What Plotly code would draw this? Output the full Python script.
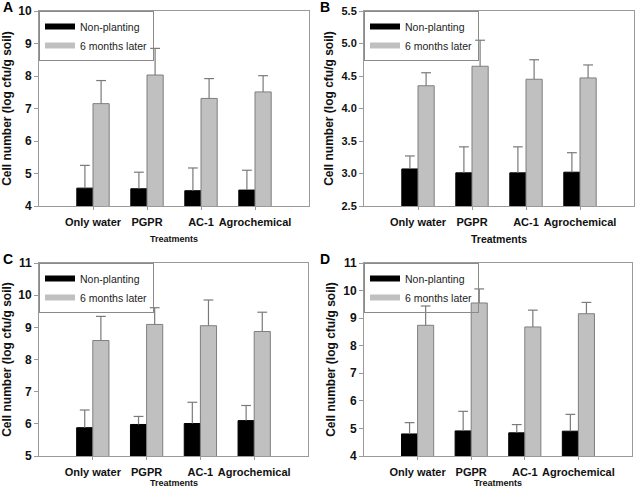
import plotly.graph_objects as go

categories = ["Only water", "PGPR", "AC-1", "Agrochemical"]
series_names = ["Non-planting", "6 months later"]
panel_labels = ["A", "B", "C", "D"]
x_title = "Treatments"
y_title = "Cell number (log cfu/g soil)"

# Panel A
a_nonplanting = [4.55, 4.53, 4.47, 4.49]
a_nonplanting_err = [0.70, 0.51, 0.70, 0.61]
a_later = [7.15, 8.03, 7.31, 7.51]
a_later_err = [0.71, 0.82, 0.61, 0.50]
# Panel B
b_nonplanting = [3.07, 3.01, 3.01, 3.02]
b_nonplanting_err = [0.20, 0.40, 0.40, 0.30]
b_later = [4.35, 4.65, 4.45, 4.47]
b_later_err = [0.20, 0.40, 0.30, 0.20]
# Panel C
c_nonplanting = [5.88, 5.98, 6.01, 6.10]
c_nonplanting_err = [0.55, 0.25, 0.66, 0.47]
c_later = [8.59, 9.09, 9.05, 8.87]
c_later_err = [0.75, 0.52, 0.80, 0.60]
# Panel D
d_nonplanting = [4.80, 4.91, 4.84, 4.90]
d_nonplanting_err = [0.41, 0.71, 0.30, 0.61]
d_later = [8.74, 9.55, 8.68, 9.16]
d_later_err = [0.70, 0.51, 0.61, 0.41]

W, H = 637, 488
FONT = "Liberation Sans"
FRAME = "#9a9a9a"
ERRC = "#7a7a7a"
BAR_COLORS = ["#000000", "#c0c0c0"]
BAR_LINES = ["#000000", "#7f7f7f"]

# layout geometry (pixels)
panels = [
    dict(data=(a_nonplanting, a_nonplanting_err, a_later, a_later_err),
         px=(39, 309), py=(11, 206), yr=[4, 10], dt=1, fmt="", ytf=12, xt_y=239, xt_size=9),
    dict(data=(b_nonplanting, b_nonplanting_err, b_later, b_later_err),
         px=(364, 634), py=(11, 206), yr=[2.5, 5.5], dt=0.5, fmt=".1f", ytf=11, xt_y=239, xt_size=10.5),
    dict(data=(c_nonplanting, c_nonplanting_err, c_later, c_later_err),
         px=(39, 308), py=(263, 456), yr=[5, 11], dt=1, fmt="", ytf=12, xt_y=482.5, xt_size=9),
    dict(data=(d_nonplanting, d_nonplanting_err, d_later, d_later_err),
         px=(364, 632), py=(263, 456), yr=[4, 11], dt=1, fmt="", ytf=12, xt_y=482.5, xt_size=9),
]

BAR_W = 0.3
idx = list(range(len(categories)))

fig = go.Figure()
layout = dict(
    width=W, height=H, autosize=False,
    margin=dict(l=0, r=0, t=0, b=0),
    paper_bgcolor="white", plot_bgcolor="white",
    template="none",
    font=dict(family=FONT, color="#000000"),
    showlegend=True,
    annotations=[],
)

for p, (panel, label) in enumerate(zip(panels, panel_labels)):
    n = "" if p == 0 else str(p + 1)
    xa, ya = "x" + n, "y" + n
    leg = "legend" + n
    values = [(panel["data"][0], panel["data"][1]), (panel["data"][2], panel["data"][3])]
    for s, (vals, errs) in enumerate(values):
        offset = -BAR_W / 2 if s == 0 else BAR_W / 2
        xs = [i + offset for i in idx]
        fig.add_trace(go.Bar(
            x=xs, y=vals, width=BAR_W, xaxis=xa, yaxis=ya, showlegend=False,
            marker=dict(color=BAR_COLORS[s], line=dict(color=BAR_LINES[s], width=1)),
            hoverinfo="skip"))
        # error stems (upper only)
        sx, sy = [], []
        for xv, v, e in zip(xs, vals, errs):
            sx += [xv, xv, None]
            sy += [v, v + e, None]
        fig.add_trace(go.Scatter(
            x=sx, y=sy, mode="lines", xaxis=xa, yaxis=ya, showlegend=False,
            line=dict(color=ERRC, width=1.2), hoverinfo="skip"))
        fig.add_trace(go.Scatter(
            x=xs, y=[v + e for v, e in zip(vals, errs)], mode="markers",
            xaxis=xa, yaxis=ya, showlegend=False, hoverinfo="skip",
            marker=dict(symbol="line-ew", size=7, line=dict(color=ERRC, width=1.2))))
    # legend proxies
    for s, name in enumerate(series_names):
        fig.add_trace(go.Scatter(
            x=[None], y=[None], mode="lines", name=name, legend=leg,
            xaxis=xa, yaxis=ya,
            line=dict(color=BAR_COLORS[s], width=6)))

    x0, x1 = panel["px"]
    y0, y1 = panel["py"]
    dom_x = [x0 / W, x1 / W]
    dom_y = [1 - y1 / H, 1 - y0 / H]
    layout["xaxis" + n] = dict(
        domain=dom_x, anchor=ya, range=[-1, 4],
        tickvals=idx, ticktext=categories,
        ticks="outside", ticklen=3, tickcolor=FRAME,
        showline=True, linecolor=FRAME, linewidth=1, mirror=True,
        showgrid=False, zeroline=False, ticklabelstandoff=3,
        tickfont=dict(family=FONT, size=11, weight="bold", color="#111111"),
        automargin=False)
    layout["yaxis" + n] = dict(
        domain=dom_y, anchor=xa, range=panel["yr"], dtick=panel["dt"],
        tick0=panel["yr"][0], tickformat=panel["fmt"],
        ticks="outside", ticklen=4, tickcolor=FRAME,
        showline=True, linecolor=FRAME, linewidth=1, mirror=True,
        showgrid=False, zeroline=False,
        tickfont=dict(family=FONT, size=panel["ytf"], weight="bold", color="#111111"),
        title=dict(text=y_title, standoff=5,
                   font=dict(family=FONT, size=12, weight="bold", color="#111111")),
        automargin=False)
    layout[leg] = dict(
        x=dom_x[0], y=dom_y[1], xanchor="left", yanchor="top",
        xref="paper", yref="paper",
        bgcolor="rgba(255,255,255,0)", bordercolor="#8a8a8a", borderwidth=1,
        font=dict(family=FONT, size=10.5, color="#222222"),
        tracegroupgap=0, itemwidth=30)
    layout["annotations"].append(dict(
        text=label, x=(x0 - 31 if p % 2 == 0 else x0 - 39) / W, y=1 - (y0 - 4) / H,
        xref="paper", yref="paper", xanchor="center", yanchor="middle",
        showarrow=False, font=dict(family=FONT, size=14, weight="bold", color="#000000")))
    layout["annotations"].append(dict(
        text=x_title, x=(x0 + x1) / 2 / W, y=1 - panel["xt_y"] / H,
        xref="paper", yref="paper", xanchor="center", yanchor="middle",
        showarrow=False,
        font=dict(family=FONT, size=panel["xt_size"], weight="bold", color="#111111")))

fig.update_layout(**layout)
fig.write_html("out.html")
